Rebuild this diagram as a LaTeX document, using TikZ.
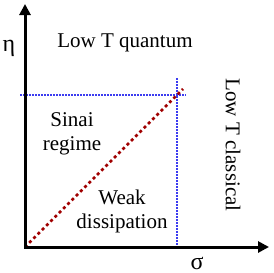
\documentclass[tikz,border=0pt]{standalone}
\usepackage{fontspec}
\setmainfont{Liberation Serif}
\usetikzlibrary{arrows.meta}
\definecolor{dotblue}{RGB}{60,60,240}
\definecolor{dashred}{RGB}{160,0,0}
\begin{document}
\begin{tikzpicture}[x=1pt,y=-1pt,
  axis/.style={line width=3pt,{Triangle[length=11pt,width=11pt]}-{Triangle[length=11pt,width=11pt]}},
  bluedot/.style={dotblue,line width=1.6pt,dash pattern=on 1.5pt off 1.5pt},
  reddash/.style={dashred,line width=2.6pt,dash pattern=on 3pt off 3pt},
  lbl/.style={inner sep=0pt,font=\fontsize{21}{24}\selectfont,align=center},
  sym/.style={inner sep=0pt,font=\fontsize{24}{24}\selectfont}]
\useasboundingbox (0,0) rectangle (273,273);
\coordinate (ytip) at (25,4);
\coordinate (o) at (25,247);
\coordinate (xtip) at (269,247);
\coordinate (hl) at (20,95);
\coordinate (hr) at (186,95);
\coordinate (vt) at (177,78);
\coordinate (vb) at (177,247);
\coordinate (dend) at (183,89);
\draw[bluedot] (hl) -- (hr);
\draw[bluedot] (vt) -- (vb);
\draw[reddash] (o) -- (dend);
\draw[axis] (ytip) -- (o) -- (xtip);
\node[sym] (eta) at (9,48) {η};
\node[sym,anchor=base] (sigma) at (197,269) {σ};
\node[lbl,anchor=base] (quant) at (125,47) {Low T quantum};
\node[lbl,anchor=base] (sinai) at (72,150) {Sinai\\regime};
\node[lbl,anchor=base] (weak) at (122,228) {Weak\\dissipation};
\node[lbl,rotate=-90] (class) at (233,145) {Low T classical};
\end{tikzpicture}
\end{document}
